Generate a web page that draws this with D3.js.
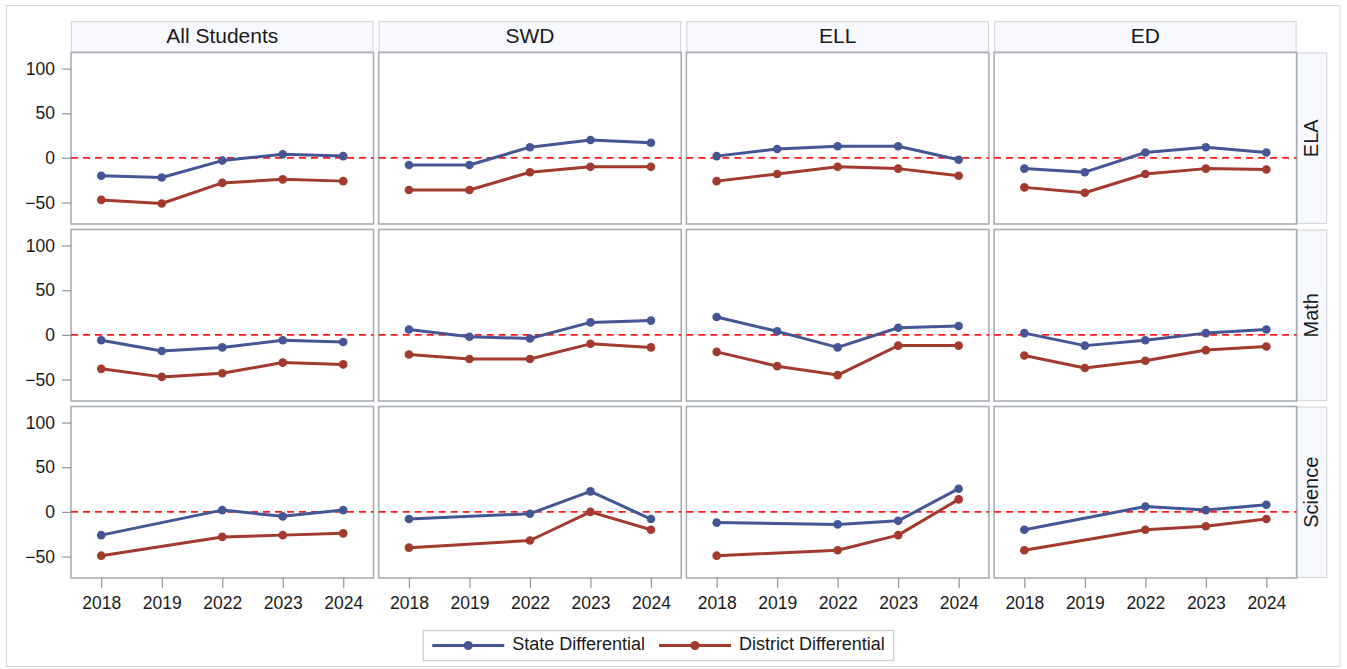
<!DOCTYPE html>
<html>
<head>
<meta charset="utf-8">
<script src="https://cdn.jsdelivr.net/npm/d3@7"></script>
<style>
  html, body { margin: 0; padding: 0; background: #ffffff; }
  svg { display: block; font-family: "Liberation Sans", Arial, sans-serif; }
</style>
</head>
<body>
<svg id="chart" width="1347" height="669"></svg>
<script>
// Facet definitions
const groups = ["All Students", "SWD", "ELL", "ED"];
const subjects = ["ELA", "Math", "Science"];
const years = ["2018", "2019", "2022", "2023", "2024"];
const yTicks = [-50, 0, 50, 100];
const seriesNames = ["State Differential", "District Differential"];

// State differential by subject, then group (values per year; null = not reported)
const stateELA = [
  [-20, -22, -3, 4, 2],
  [-8, -8, 12, 20, 17],
  [2, 10, 13, 13, -2],
  [-12, -16, 6, 12, 6]
];
const stateMath = [
  [-6, -18, -14, -6, -8],
  [6, -2, -4, 14, 16],
  [20, 4, -14, 8, 10],
  [2, -12, -6, 2, 6]
];
const stateScience = [
  [-26, null, 2, -5, 2],
  [-8, null, -2, 23, -8],
  [-12, null, -14, -10, 26],
  [-20, null, 6, 2, 8]
];

// District differential by subject, then group
const districtELA = [
  [-47, -51, -28, -24, -26],
  [-36, -36, -16, -10, -10],
  [-26, -18, -10, -12, -20],
  [-33, -39, -18, -12, -13]
];
const districtMath = [
  [-38, -47, -43, -31, -33],
  [-22, -27, -27, -10, -14],
  [-19, -35, -45, -12, -12],
  [-23, -37, -29, -17, -13]
];
const districtScience = [
  [-49, null, -28, -26, -24],
  [-40, null, -32, 0, -20],
  [-49, null, -43, -26, 14],
  [-43, null, -20, -16, -8]
];

const stateBySubject = [stateELA, stateMath, stateScience];
const districtBySubject = [districtELA, districtMath, districtScience];

// Layout
const panelLeft = 71, panelTop = 52.5;
const panelW = 302.5, panelH = 171.5;
const colPitch = 307.7, rowPitch = 177;
const headerH = 31.5, stripW = 30.5;
const colors = { state: "#445694", district: "#A23A2E" };
const tickFont = 17.5, legendFont = 18;

const svg = d3.select("#chart");

// Outer frame
svg.append("rect")
  .attr("x", 6.5).attr("y", 5.5)
  .attr("width", 1333.5).attr("height", 661)
  .attr("fill", "#ffffff").attr("stroke", "#d6d6d6").attr("stroke-width", 1);

const x = d3.scalePoint().domain(years).range([0, panelW]).padding(0.5);
const y = d3.scaleLinear().domain([-74, 118]).range([panelH, 0]);

const line = d3.line()
  .x(d => x(d.year))
  .y(d => y(d.v));

// Column headers
groups.forEach((g, c) => {
  const gx = panelLeft + c * colPitch;
  const h = svg.append("g").attr("transform", `translate(${gx},${panelTop - headerH})`);
  h.append("rect")
    .attr("x", 0.5).attr("y", 0.5)
    .attr("width", panelW - 1).attr("height", headerH - 1)
    .attr("fill", "#f7f9fe").attr("stroke", "#d4d7db").attr("stroke-width", 1.2);
  h.append("text")
    .attr("x", panelW / 2).attr("y", headerH / 2 + 1)
    .attr("text-anchor", "middle").attr("dominant-baseline", "middle")
    .attr("font-size", 21).attr("fill", "#1a1a1a")
    .text(g);
});

// Row strips on the right
subjects.forEach((s, r) => {
  const sx = panelLeft + 3 * colPitch + panelW;
  const sy = panelTop + r * rowPitch;
  const st = svg.append("g").attr("transform", `translate(${sx},${sy})`);
  st.append("rect")
    .attr("x", 0.5).attr("y", 0.5)
    .attr("width", stripW - 1).attr("height", panelH - 1)
    .attr("fill", "#f7f9fe").attr("stroke", "#d4d7db").attr("stroke-width", 1.2);
  st.append("text")
    .attr("transform", `translate(${stripW / 2 + 1},${panelH / 2}) rotate(-90)`)
    .attr("text-anchor", "middle").attr("dominant-baseline", "middle")
    .attr("font-size", 20).attr("fill", "#1a1a1a")
    .text(s);
});

// Panels
subjects.forEach((s, r) => {
  groups.forEach((g, c) => {
    const px = panelLeft + c * colPitch;
    const py = panelTop + r * rowPitch;
    const p = svg.append("g").attr("transform", `translate(${px},${py})`);

    p.append("rect")
      .attr("x", 0).attr("y", 0)
      .attr("width", panelW).attr("height", panelH)
      .attr("fill", "#ffffff").attr("stroke", "#a7adb2").attr("stroke-width", 1.6);

    // Zero reference line
    p.append("line")
      .attr("x1", 0).attr("x2", panelW)
      .attr("y1", y(0)).attr("y2", y(0))
      .attr("stroke", "#ff1a1a").attr("stroke-width", 1.6)
      .attr("stroke-dasharray", "7,5");

    const series = [
      { key: "state", vals: stateBySubject[r][c] },
      { key: "district", vals: districtBySubject[r][c] }
    ];
    series.forEach(sr => {
      // Years without a value are skipped; the line joins the reported years
      const present = years.map((yr, i) => ({ year: yr, v: sr.vals[i] })).filter(d => d.v !== null);
      p.append("path")
        .attr("d", line(present))
        .attr("fill", "none")
        .attr("stroke", colors[sr.key]).attr("stroke-width", 3)
        .attr("stroke-linejoin", "round").attr("stroke-linecap", "round");
      p.selectAll(null).data(present).enter().append("circle")
        .attr("cx", d => x(d.year)).attr("cy", d => y(d.v))
        .attr("r", 4.3).attr("fill", colors[sr.key]);
    });

    // Y axis on the first column
    if (c === 0) {
      const ya = p.append("g")
        .call(d3.axisLeft(y).tickValues(yTicks).tickSize(9).tickPadding(7).tickFormat(d3.format("d")));
      ya.select(".domain").remove();
      ya.selectAll(".tick line").attr("stroke", "#8e959b").attr("stroke-width", 1.2);
      ya.selectAll(".tick text").attr("font-size", tickFont).attr("fill", "#1a1a1a")
        .attr("font-family", "Liberation Sans, Arial, sans-serif");
    }

    // X axis on the bottom row
    if (r === subjects.length - 1) {
      const xa = p.append("g").attr("transform", `translate(0,${panelH})`)
        .call(d3.axisBottom(x).tickSize(10).tickPadding(9));
      xa.select(".domain").remove();
      xa.selectAll(".tick line").attr("stroke", "#8e959b").attr("stroke-width", 1.2);
      xa.selectAll(".tick text").attr("font-size", tickFont).attr("fill", "#1a1a1a")
        .attr("font-family", "Liberation Sans, Arial, sans-serif");
    }
  });
});

// Legend
const legend = svg.append("g");
const lgY = 645.5;
const swatchW = 72, gapAfterSwatch = 8, itemGap = 14, padX = 9;
const items = seriesNames.map((name, i) => ({ name, color: i === 0 ? colors.state : colors.district }));
const measure = svg.append("text").attr("font-size", legendFont).attr("visibility", "hidden");
items.forEach(it => { measure.text(it.name); it.w = measure.node().getComputedTextLength(); });
measure.remove();
const totalW = padX * 2 + items.reduce((a, it) => a + swatchW + gapAfterSwatch + it.w, 0) + itemGap * (items.length - 1);
const lgX = 658.5 - totalW / 2;
legend.append("rect")
  .attr("x", lgX).attr("y", 630.5).attr("width", totalW).attr("height", 30)
  .attr("fill", "#ffffff").attr("stroke", "#c9cdd1").attr("stroke-width", 1.2);
let cx = lgX + padX;
items.forEach(it => {
  legend.append("line")
    .attr("x1", cx).attr("x2", cx + swatchW).attr("y1", lgY).attr("y2", lgY)
    .attr("stroke", it.color).attr("stroke-width", 3);
  legend.append("circle").attr("cx", cx + swatchW / 2).attr("cy", lgY).attr("r", 4.5).attr("fill", it.color);
  legend.append("text")
    .attr("x", cx + swatchW + gapAfterSwatch).attr("y", lgY)
    .attr("dominant-baseline", "middle").attr("font-size", legendFont).attr("fill", "#1a1a1a")
    .text(it.name);
  cx += swatchW + gapAfterSwatch + it.w + itemGap;
});
</script>
</body>
</html>
